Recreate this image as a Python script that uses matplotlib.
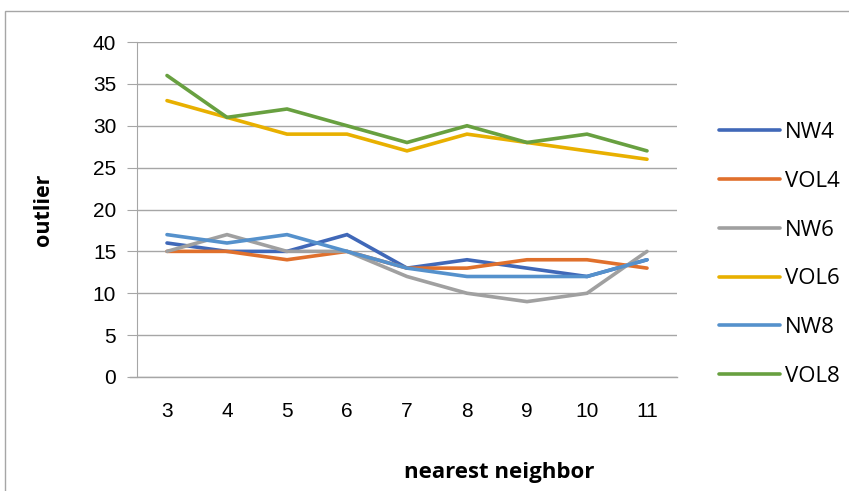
import matplotlib.pyplot as plt
from matplotlib.patches import Rectangle

# outlier counts per nearest-neighbour setting
k = [3, 4, 5, 6, 7, 8, 9, 10, 11]
nw4 = [16, 15, 15, 17, 13, 14, 13, 12, 14]
vol4 = [15, 15, 14, 15, 13, 13, 14, 14, 13]
nw6 = [15, 17, 15, 15, 12, 10, 9, 10, 15]
vol6 = [33, 31, 29, 29, 27, 29, 28, 27, 26]
nw8 = [17, 16, 17, 15, 13, 12, 12, 12, 14]
vol8 = [36, 31, 32, 30, 28, 30, 28, 29, 27]

names = ['NW4', 'VOL4', 'NW6', 'VOL6', 'NW8', 'VOL8']
colors = ['#4068B8', '#E0702C', '#A0A0A0', '#E8B000', '#5591CC', '#68A040']
series = [nw4, vol4, nw6, vol6, nw8, vol8]

plt.rcParams['font.family'] = ['Liberation Sans', 'DejaVu Sans']

fig = plt.figure(figsize=(8.49, 4.91), dpi=100)
ax = fig.add_axes([137 / 849, 1 - 377 / 491, 540 / 849, 335 / 491])

# chart frame
fig.patches.append(Rectangle((5 / 849, -0.1), 1.1, 1 - 11 / 491 + 0.1,
                             transform=fig.transFigure, fill=False,
                             edgecolor='#A6A6A6', linewidth=1))

pos = list(range(len(k)))
for name, c, ys in zip(names, colors, series):
    ax.plot(pos, ys, color=c, linewidth=2.6, label=name,
            solid_capstyle='round', solid_joinstyle='miter')

ax.set_xlim(-0.5, len(k) - 0.5)
ax.set_ylim(0, 40)
ax.set_yticks(range(0, 41, 5))
ax.set_xticks(pos)
ax.set_xticklabels([str(v) for v in k])
ax.grid(axis='y', color='#A6A6A6', linewidth=1)
ax.set_axisbelow(True)
for s in ['top', 'right', 'bottom']:
    ax.spines[s].set_visible(False)
ax.spines['left'].set_color('#A6A6A6')
ax.tick_params(axis='y', length=7, color='#A6A6A6', labelsize=15, pad=8)
ax.tick_params(axis='x', length=0, labelsize=15, pad=18)
ax.axhline(0, color='#A6A6A6', linewidth=1, xmin=-0.013, clip_on=False)

ax.set_xlabel('nearest neighbor', fontsize=16, fontweight='bold',
              family=['Open Sans', 'DejaVu Sans'])
ax.xaxis.set_label_coords(0.67, -0.255)
ax.set_ylabel('outlier', fontsize=15.5, fontweight='bold',
              family=['Open Sans', 'DejaVu Sans'], labelpad=28)

leg = ax.legend(loc='center left', bbox_to_anchor=(1.04, 0.366), frameon=False,
                handlelength=2.75, labelspacing=1.25, handletextpad=0.25,
                prop={'family': ['Open Sans', 'DejaVu Sans'], 'size': 16})

fig.savefig('out.png', dpi=100)
